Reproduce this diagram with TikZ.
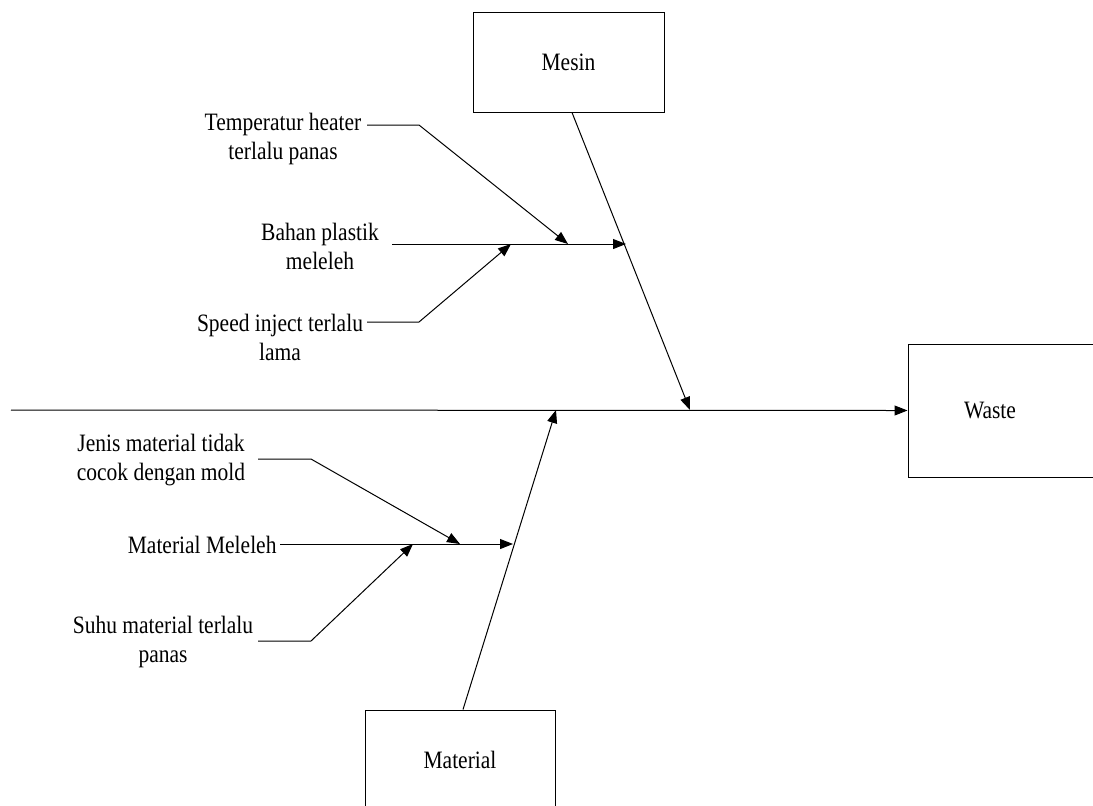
\documentclass[tikz,border=0pt]{standalone}
\usepackage{fontspec}
\setmainfont{Liberation Serif}[FakeStretch=0.86]
\usetikzlibrary{arrows.meta}
\tikzset{
  box/.style={draw, inner sep=0pt},
  cause/.style={align=center, inner sep=0pt},
}
\begin{document}
\begin{tikzpicture}[x=0.5pt, y=-0.5pt, line width=0.5pt, >={Triangle[length=6.5pt,width=5pt]}, font=\fontsize{12.5}{14.5}\selectfont]
\useasboundingbox (0,0) rectangle (1093,805);
\clip (0,0) rectangle (1093,805);
% kepala dan kategori
\node[box, minimum width=95.5pt, minimum height=50pt](mesin) at (568.5,62) {Mesin};
\node[box, minimum width=95pt, minimum height=50pt](material) at (460,760) {Material};
\node[box, minimum width=101pt, minimum height=66.5pt](waste) at (1009,410.5) {};
\node (wastetxt) at (990,410) {Waste};

% tulang utama
\coordinate (ekor) at (11,410);
\coordinate (mtip) at (690,410);
\coordinate (ttip) at (556,410);
\draw[->](ekor)--(waste.west);
\draw[->](mesin.south -| 572,0)--(mtip);
\draw[->](material.north -| 463,0)--(ttip);

% sebab mesin
\node[cause](temp) at (283,139) {Temperatur heater\\terlalu panas};
\node[cause](bahan) at (320,246) {Bahan plastik\\meleleh};
\node[cause](speed) at (280,337) {Speed inject terlalu\\lama};
\coordinate (b1) at (392,244);
\coordinate (b2) at (626,244);
\coordinate (t0) at (367,125);
\coordinate (t1) at (419,125);
\coordinate (t2) at (568,244);
\coordinate (s0) at (367,322);
\coordinate (s1) at (419,322);
\coordinate (s2) at (511,244);
\draw[->](b1)--(b2);
\draw[->](t0)--(t1)--(t2);
\draw[->](s0)--(s1)--(s2);

% sebab material
\node[cause](jenis) at (161,460) {Jenis material tidak\\cocok dengan mold};
\node[cause, anchor=east](meleleh) at (277,545) {Material Meleleh};
\node[cause](suhu) at (163,642) {Suhu material terlalu\\panas};
\coordinate (l1) at (280,544);
\coordinate (l2) at (513,544);
\coordinate (j0) at (258,459);
\coordinate (j1) at (311,459);
\coordinate (j2) at (460,544);
\coordinate (u0) at (258,641);
\coordinate (u1) at (311,641);
\coordinate (u2) at (413,544);
\draw[->](l1)--(l2);
\draw[->](j0)--(j1)--(j2);
\draw[->](u0)--(u1)--(u2);
\end{tikzpicture}
\end{document}
